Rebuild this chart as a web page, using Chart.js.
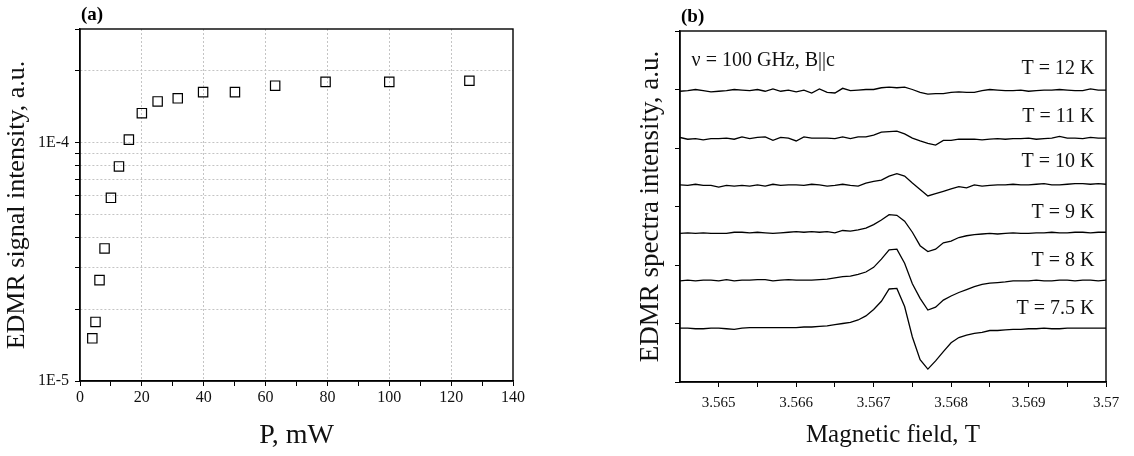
<!DOCTYPE html>
<html>
<head>
<meta charset="utf-8">
<script src="https://cdn.jsdelivr.net/npm/chart.js@4.4.1/dist/chart.umd.min.js"></script>
<style>
body { margin: 0; background: #fff; }
#wrap { position: relative; width: 1134px; height: 456px; }
canvas { position: absolute; top: 0; }
</style>
</head>
<body>
<div id="wrap">
  <canvas id="canvaA" width="567" height="456" style="left:0;width:567px;height:456px"></canvas>
  <canvas id="canvaB" width="567" height="456" style="left:567px;width:567px;height:456px"></canvas>
</div>
<script>
// panel (a): EDMR signal vs microwave power
var power = [3.98, 5.01, 6.31, 7.94, 10, 12.6, 15.8, 20, 25.1, 31.6, 39.8, 50.1, 63.1, 79.4, 100, 125.9];
var signal = [1.51e-5, 1.77e-5, 2.65e-5, 3.60e-5, 5.87e-5, 7.95e-5, 1.03e-4, 1.33e-4, 1.49e-4, 1.535e-4,
              1.63e-4, 1.63e-4, 1.735e-4, 1.80e-4, 1.80e-4, 1.82e-4];
var powerTicks = [0, 10, 20, 30, 40, 50, 60, 70, 80, 90, 100, 110, 120, 130, 140];
var signalTicks = [1e-5, 2e-5, 3e-5, 4e-5, 5e-5, 6e-5, 7e-5, 8e-5, 9e-5, 1e-4, 2e-4, 3e-4];

// panel (b): spectra, shifted vertically
var field = [3.5645, 3.5646, 3.5647, 3.5648, 3.5649,
  3.5650, 3.5651, 3.5652, 3.5653, 3.5654, 3.5655, 3.5656, 3.5657, 3.5658, 3.5659,
  3.5660, 3.5661, 3.5662, 3.5663, 3.5664, 3.5665, 3.5666, 3.5667, 3.5668, 3.5669,
  3.5670, 3.5671, 3.5672, 3.5673, 3.5674, 3.5675, 3.5676, 3.5677, 3.5678, 3.5679,
  3.5680, 3.5681, 3.5682, 3.5683, 3.5684, 3.5685, 3.5686, 3.5687, 3.5688, 3.5689,
  3.5690, 3.5691, 3.5692, 3.5693, 3.5694, 3.5695, 3.5696, 3.5697, 3.5698, 3.5699,
  3.5700];
var t12 = [4.97, 4.98, 5.00, 4.98, 4.96, 4.97, 4.98, 5.00, 4.99, 4.98, 5.00, 4.97, 5.01, 4.97, 4.99, 4.96, 4.99, 4.94, 5.01, 4.95,
  4.94, 5.02, 4.98, 4.99, 5.00, 5.00, 5.03, 5.04, 5.03, 5.04, 5.00, 4.95, 4.92, 4.93, 4.93, 4.95, 4.96, 4.95, 4.95, 4.98,
  5.00, 4.99, 4.98, 4.98, 4.99, 4.97, 4.98, 4.99, 4.99, 5.00, 4.99, 4.98, 4.98, 5.01, 4.99, 4.99];
var t11 = [4.18, 4.15, 4.16, 4.14, 4.16, 4.16, 4.17, 4.15, 4.19, 4.16, 4.18, 4.19, 4.13, 4.18, 4.17, 4.12, 4.19, 4.17, 4.17, 4.17,
  4.16, 4.19, 4.16, 4.19, 4.19, 4.22, 4.27, 4.28, 4.29, 4.24, 4.17, 4.12, 4.08, 4.05, 4.13, 4.13, 4.15, 4.15, 4.15, 4.14,
  4.15, 4.16, 4.15, 4.16, 4.16, 4.17, 4.15, 4.16, 4.17, 4.20, 4.17, 4.17, 4.16, 4.18, 4.17, 4.17];
var t10 = [3.37, 3.36, 3.38, 3.36, 3.36, 3.33, 3.36, 3.35, 3.36, 3.35, 3.37, 3.35, 3.38, 3.36, 3.37, 3.37, 3.36, 3.38, 3.37, 3.35,
  3.36, 3.38, 3.36, 3.35, 3.40, 3.43, 3.45, 3.52, 3.56, 3.52, 3.40, 3.29, 3.18, 3.22, 3.26, 3.30, 3.34, 3.32, 3.37, 3.35,
  3.36, 3.37, 3.37, 3.38, 3.37, 3.37, 3.38, 3.39, 3.37, 3.37, 3.38, 3.39, 3.39, 3.38, 3.39, 3.38];
var t9 = [2.54, 2.55, 2.54, 2.55, 2.54, 2.54, 2.54, 2.56, 2.56, 2.55, 2.56, 2.55, 2.54, 2.55, 2.56, 2.57, 2.56, 2.57, 2.56, 2.57,
  2.55, 2.59, 2.58, 2.60, 2.63, 2.69, 2.77, 2.86, 2.85, 2.75, 2.56, 2.33, 2.23, 2.27, 2.38, 2.41, 2.47, 2.50, 2.52, 2.53,
  2.54, 2.53, 2.54, 2.55, 2.54, 2.54, 2.55, 2.55, 2.56, 2.55, 2.55, 2.56, 2.56, 2.55, 2.56, 2.56];
var t8 = [1.73, 1.74, 1.73, 1.74, 1.74, 1.73, 1.75, 1.73, 1.74, 1.74, 1.75, 1.75, 1.73, 1.74, 1.75, 1.74, 1.74, 1.74, 1.75, 1.76,
  1.78, 1.80, 1.81, 1.84, 1.88, 1.96, 2.10, 2.26, 2.27, 2.03, 1.68, 1.43, 1.23, 1.28, 1.40, 1.47, 1.53, 1.58, 1.63, 1.67,
  1.69, 1.70, 1.71, 1.73, 1.73, 1.73, 1.74, 1.73, 1.73, 1.74, 1.74, 1.73, 1.74, 1.74, 1.73, 1.74];
var t75 = [0.92, 0.92, 0.91, 0.91, 0.92, 0.92, 0.91, 0.90, 0.92, 0.93, 0.93, 0.93, 0.93, 0.93, 0.93, 0.93, 0.94, 0.94, 0.95, 0.96,
  0.98, 1.00, 1.02, 1.06, 1.13, 1.24, 1.38, 1.59, 1.60, 1.29, 0.77, 0.38, 0.22, 0.36, 0.52, 0.67, 0.76, 0.80, 0.83, 0.85,
  0.88, 0.88, 0.89, 0.90, 0.90, 0.91, 0.91, 0.92, 0.91, 0.91, 0.92, 0.92, 0.92, 0.92, 0.92, 0.92];
var fieldTicks = [3.565, 3.5655, 3.566, 3.5665, 3.567, 3.5675, 3.568, 3.5685, 3.569, 3.5695, 3.570];
var offsetTicks = [0, 1, 2, 3, 4, 5, 6];
var tempLabels = ['T = 12 K', 'T = 11 K', 'T = 10 K', 'T = 9 K', 'T = 8 K', 'T = 7.5 K'];
var labelPos = [5.36, 4.54, 3.76, 2.89, 2.07, 1.26];
var labelField = 3.56985;
var condLabel = 'ν = 100 GHz, B||c';
var condPos = [3.56465, 5.50];

var serif = "'Liberation Serif', 'Times New Roman', serif";
var clear = 'rgba(0,0,0,0)';
var dotted = '#c4c4c4';

// box around the plot + panel letter
var frame = {
  id: 'frame',
  afterDraw: function(chart, args, opts) {
    var c = chart.ctx, a = chart.chartArea;
    c.save();
    c.strokeStyle = '#000';
    c.lineWidth = 1.4;
    c.strokeRect(a.left, a.top, a.right - a.left, a.bottom - a.top);
    c.font = 'bold 19px ' + serif;
    c.fillStyle = '#000';
    c.textAlign = 'left';
    c.textBaseline = 'middle';
    c.fillText(opts.panel, a.left + 1, a.top - 14);
    c.restore();
  }
};

var ptsA = [];
power.forEach(function(p, i) { ptsA.push({x: p, y: signal[i]}); });

new Chart(document.getElementById('canvaA'), {
  type: 'scatter',
  data: {
    datasets: [{
      data: ptsA,
      pointStyle: 'rect',
      pointRadius: 6.6,
      borderColor: '#000',
      borderWidth: 1.2,
      backgroundColor: clear
    }]
  },
  plugins: [frame],
  options: {
    responsive: false,
    animation: false,
    layout: { padding: { top: 29, right: 54, left: 0, bottom: 0 } },
    plugins: { legend: { display: false }, tooltip: { enabled: false }, frame: { panel: '(a)' } },
    scales: {
      x: {
        type: 'linear', min: 0, max: 140,
        afterBuildTicks: function(s) { s.ticks = powerTicks.map(function(v) { return {value: v}; }); },
        afterFit: function(s) { s.height = 75; },
        ticks: {
          autoSkip: false, maxRotation: 0, padding: 2, color: '#111',
          font: { family: serif, size: 16 },
          callback: function(v) { return v % 20 === 0 ? String(v) : ''; }
        },
        grid: {
          color: function(ctx) { var v = ctx.tick ? ctx.tick.value : 0; return (v % 20 === 0 && v > 0 && v < 140) ? dotted : clear; },
          tickColor: '#000', tickLength: 5, lineWidth: 1
        },
        border: { color: '#000', width: 1.4, dash: [2, 2] },
        title: { display: true, text: 'P, mW', color: '#111', font: { family: serif, size: 28 }, padding: { top: 0, bottom: 4 } }
      },
      y: {
        type: 'logarithmic', min: 1e-5, max: 3e-4,
        afterBuildTicks: function(s) { s.ticks = signalTicks.map(function(v) { return {value: v}; }); },
        afterFit: function(s) { s.width = 80; },
        ticks: {
          autoSkip: false, padding: 6, color: '#111',
          font: { family: serif, size: 16 },
          callback: function(v) { return v === 1e-5 ? '1E-5' : (v === 1e-4 ? '1E-4' : ''); }
        },
        grid: {
          color: function(ctx) { var v = ctx.tick ? ctx.tick.value : 0; return (v > 1e-5 && v < 3e-4) ? dotted : clear; },
          tickColor: '#000', tickLength: 5, lineWidth: 1
        },
        border: { color: '#000', width: 1.4, dash: [2, 2] },
        title: { display: true, text: 'EDMR signal intensity, a.u.', color: '#111', font: { family: serif, size: 26 }, padding: { top: 2, bottom: 0 } }
      }
    }
  }
});

// temperature labels placed in data units
var notes = {
  id: 'notes',
  afterDraw: function(chart) {
    var c = chart.ctx, sx = chart.scales.x, sy = chart.scales.y;
    c.save();
    c.fillStyle = '#111';
    c.font = '20px ' + serif;
    c.textBaseline = 'middle';
    c.textAlign = 'right';
    tempLabels.forEach(function(t, i) {
      c.fillText(t, sx.getPixelForValue(labelField), sy.getPixelForValue(labelPos[i]));
    });
    c.textAlign = 'left';
    c.fillText(condLabel, sx.getPixelForValue(condPos[0]), sy.getPixelForValue(condPos[1]));
    c.restore();
  }
};

function trace(vals) {
  return {
    data: field.map(function(f, i) { return {x: f, y: vals[i]}; }),
    borderColor: '#000', borderWidth: 1.3, pointRadius: 0, tension: 0, fill: false
  };
}

new Chart(document.getElementById('canvaB'), {
  type: 'line',
  data: { datasets: [trace(t12), trace(t11), trace(t10), trace(t9), trace(t8), trace(t75)] },
  plugins: [frame, notes],
  options: {
    responsive: false,
    animation: false,
    layout: { padding: { top: 31, right: 28, left: 0, bottom: 0 } },
    plugins: { legend: { display: false }, tooltip: { enabled: false }, frame: { panel: '(b)' } },
    scales: {
      x: {
        type: 'linear', min: 3.5645, max: 3.570,
        afterBuildTicks: function(s) { s.ticks = fieldTicks.map(function(v) { return {value: v}; }); },
        afterFit: function(s) { s.height = 74; },
        ticks: {
          autoSkip: false, maxRotation: 0, padding: 7, color: '#111',
          font: { family: serif, size: 15 },
          callback: function(v) { return Math.round(v * 10000) % 10 === 0 ? String(parseFloat(v.toFixed(4))) : ''; }
        },
        grid: { drawOnChartArea: false, tickColor: '#000', tickLength: 5 },
        border: { color: '#000', width: 1.4 },
        title: { display: true, text: 'Magnetic field, T', color: '#111', font: { family: serif, size: 25 }, padding: { top: 0, bottom: 6 } }
      },
      y: {
        type: 'linear', min: 0, max: 6,
        afterBuildTicks: function(s) { s.ticks = offsetTicks.map(function(v) { return {value: v}; }); },
        afterFit: function(s) { s.width = 113; },
        ticks: { callback: function() { return ''; } },
        grid: { drawOnChartArea: false, tickColor: '#000', tickLength: 5 },
        border: { color: '#000', width: 1.4 },
        title: { display: true, text: 'EDMR spectra intensity, a.u.', color: '#111', font: { family: serif, size: 27 }, padding: { top: 68, bottom: 0 } }
      }
    }
  }
});
</script>
</body>
</html>
